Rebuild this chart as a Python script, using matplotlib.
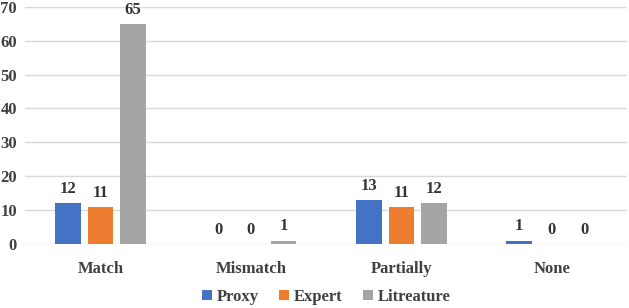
import matplotlib.pyplot as plt
import numpy as np

categories = ["Match", "Mismatch", "Partially", "None"]
proxy = [12, 0, 13, 1]
expert = [11, 0, 11, 0]
literature = [65, 1, 12, 0]
series_names = ["Proxy", "Expert", "Litreature"]
colors = ["#4472C4", "#ED7D31", "#A5A5A5"]

plt.rcParams['font.family'] = ['Liberation Serif', 'DejaVu Serif']
plt.rcParams['font.weight'] = 'bold'

fig = plt.figure(figsize=(6.29, 3.08), dpi=100)
ax = fig.add_axes([0.04, 0.208, 0.957, 0.77])

x = np.arange(len(categories))
w = 0.171
step = 0.217
for i, (vals, name, c) in enumerate(zip([proxy, expert, literature], series_names, colors)):
    bars = ax.bar(x + (i - 1) * step, vals, width=w, color=c, label=name, zorder=3)
    for b, v in zip(bars, vals):
        ax.text(b.get_x() + b.get_width() / 2, v + 1.8, str(v), ha='center', va='bottom',
                fontsize=12, fontweight='bold', color='#333333')

ax.set_xlim(-0.5, 3.5)
ax.set_ylim(0, 70)
ax.set_yticks(range(0, 71, 10))
ax.grid(axis='y', color='#D9D9D9', linewidth=1, zorder=0)
for s in ax.spines.values():
    s.set_visible(False)
ax.tick_params(length=0, labelsize=12, colors='#404040')
ax.tick_params(axis='y', pad=6)
ax.tick_params(axis='x', pad=12)
ax.set_xticks(x)
ax.set_xticklabels(categories, fontweight='bold')
for lab in ax.get_yticklabels():
    lab.set_fontweight('bold')

ax.legend(loc='lower center', bbox_to_anchor=(0.5, -0.32), ncol=3, frameon=False,
          fontsize=12, handlelength=0.6, handleheight=0.6, handletextpad=0.3,
          columnspacing=1.2, labelcolor='#404040')

fig.savefig("out.png", dpi=100)
